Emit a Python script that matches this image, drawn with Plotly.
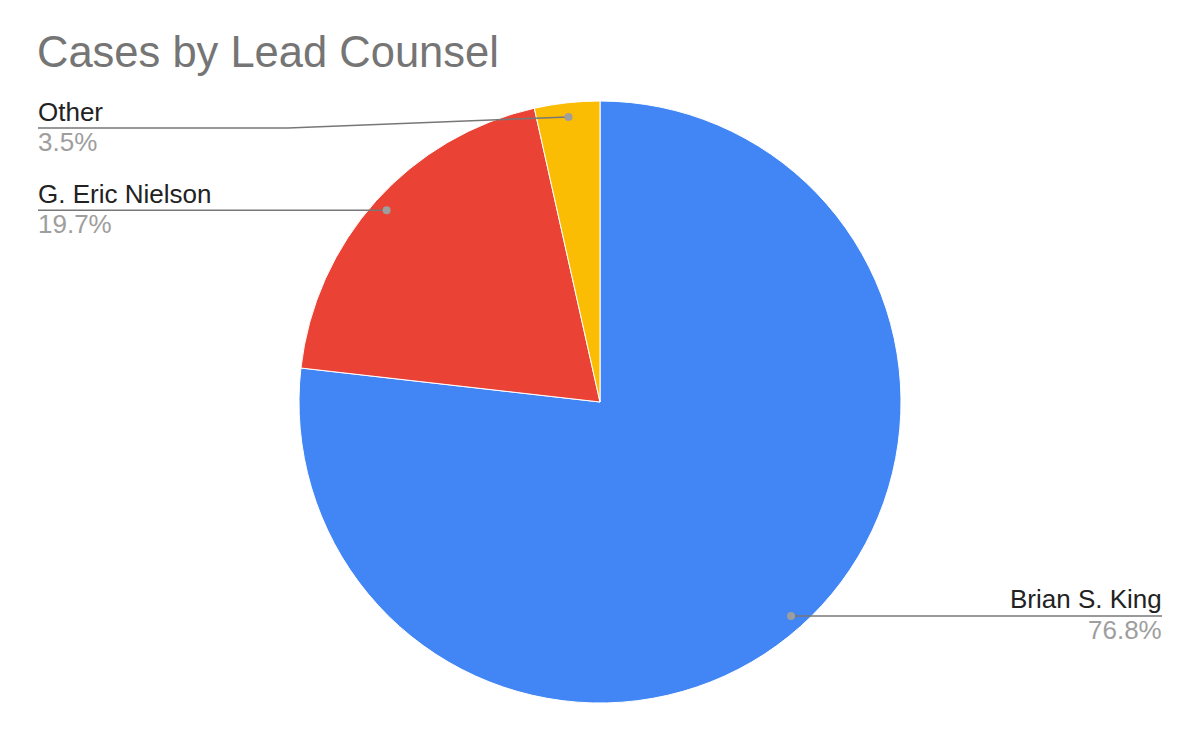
import math
import plotly.graph_objects as go

# ---- data ----
labels = ["Brian S. King", "G. Eric Nielson", "Other"]
values = [76.8, 19.7, 3.5]
pct_text = ["76.8%", "19.7%", "3.5%"]
colors = ["#4285F4", "#EA4335", "#FBBC04"]
title_text = "Cases by Lead Counsel"

# page body has an 8px margin; work in window pixels and convert
OFF = 8
W, H = 1200 - 2 * OFF, 742 - 2 * OFF
CX, CY, R = 600, 402, 301


def px(x):
    return (x - OFF) / W


def py(y):
    return 1 - (y - OFF) / H


fig = go.Figure()
fig.add_trace(go.Pie(
    labels=labels, values=values, sort=False, direction="clockwise", rotation=0,
    marker=dict(colors=colors, line=dict(color="white", width=1)),
    textinfo="none", hoverinfo="label+percent", showlegend=False,
    domain=dict(x=[px(CX - R), px(CX + R)], y=[py(CY + R), py(CY - R)]),
))

# label layout: side, label-line y (None = at dot), elbow x
label_side = ["right", "left", "left"]
label_line_y = [None, None, 128]
LEFT_X, RIGHT_X = 38, 1162
ELBOW_X = 288
PAD = 2

shapes = []
annotations = []
total = sum(values)
cum = 0.0
for i, v in enumerate(values):
    mid = (cum + v / 2) / total
    cum += v
    ang = 2 * math.pi * mid
    dx = CX + 0.953 * R * math.sin(ang)
    dy = CY - 0.953 * R * math.cos(ang)
    ly = dy if label_line_y[i] is None else label_line_y[i]
    if label_side[i] == "right":
        tx = RIGHT_X
        pts = [(dx, dy), (tx, ly)]
        xa = "right"
        ax = tx + PAD
    else:
        tx = LEFT_X
        if label_line_y[i] is None:
            pts = [(dx, dy), (tx, ly)]
        else:
            pts = [(dx, dy), (ELBOW_X, ly), (tx, ly)]
        xa = "left"
        ax = tx - PAD
    path = "M " + " L ".join(f"{px(a)},{py(b)}" for a, b in pts)
    shapes.append(dict(type="path", xref="paper", yref="paper", path=path,
                       line=dict(color="#777777", width=1.5)))
    shapes.append(dict(type="circle", xref="paper", yref="paper",
                       x0=px(dx - 4), x1=px(dx + 4), y0=py(dy + 4), y1=py(dy - 4),
                       fillcolor="#9e9e9e", line=dict(width=0)))
    annotations.append(dict(x=px(ax), y=py(ly - 16.5), xref="paper", yref="paper",
                            text=labels[i], showarrow=False, xanchor=xa, yanchor="middle",
                            font=dict(family="Liberation Sans, Arial", size=26, color="#222222")))
    annotations.append(dict(x=px(ax), y=py(ly + 14), xref="paper", yref="paper",
                            text=pct_text[i], showarrow=False, xanchor=xa, yanchor="middle",
                            font=dict(family="Liberation Sans, Arial", size=26, color="#9e9e9e")))

annotations.append(dict(x=px(35), y=py(52), xref="paper", yref="paper", text=title_text,
                        showarrow=False, xanchor="left", yanchor="middle",
                        font=dict(family="Liberation Sans, Arial", size=43.5, color="#757575")))

fig.update_layout(
    width=W, height=H, margin=dict(l=0, r=0, t=0, b=0),
    paper_bgcolor="white", plot_bgcolor="white",
    shapes=shapes, annotations=annotations,
)
fig.write_html("out.html")
